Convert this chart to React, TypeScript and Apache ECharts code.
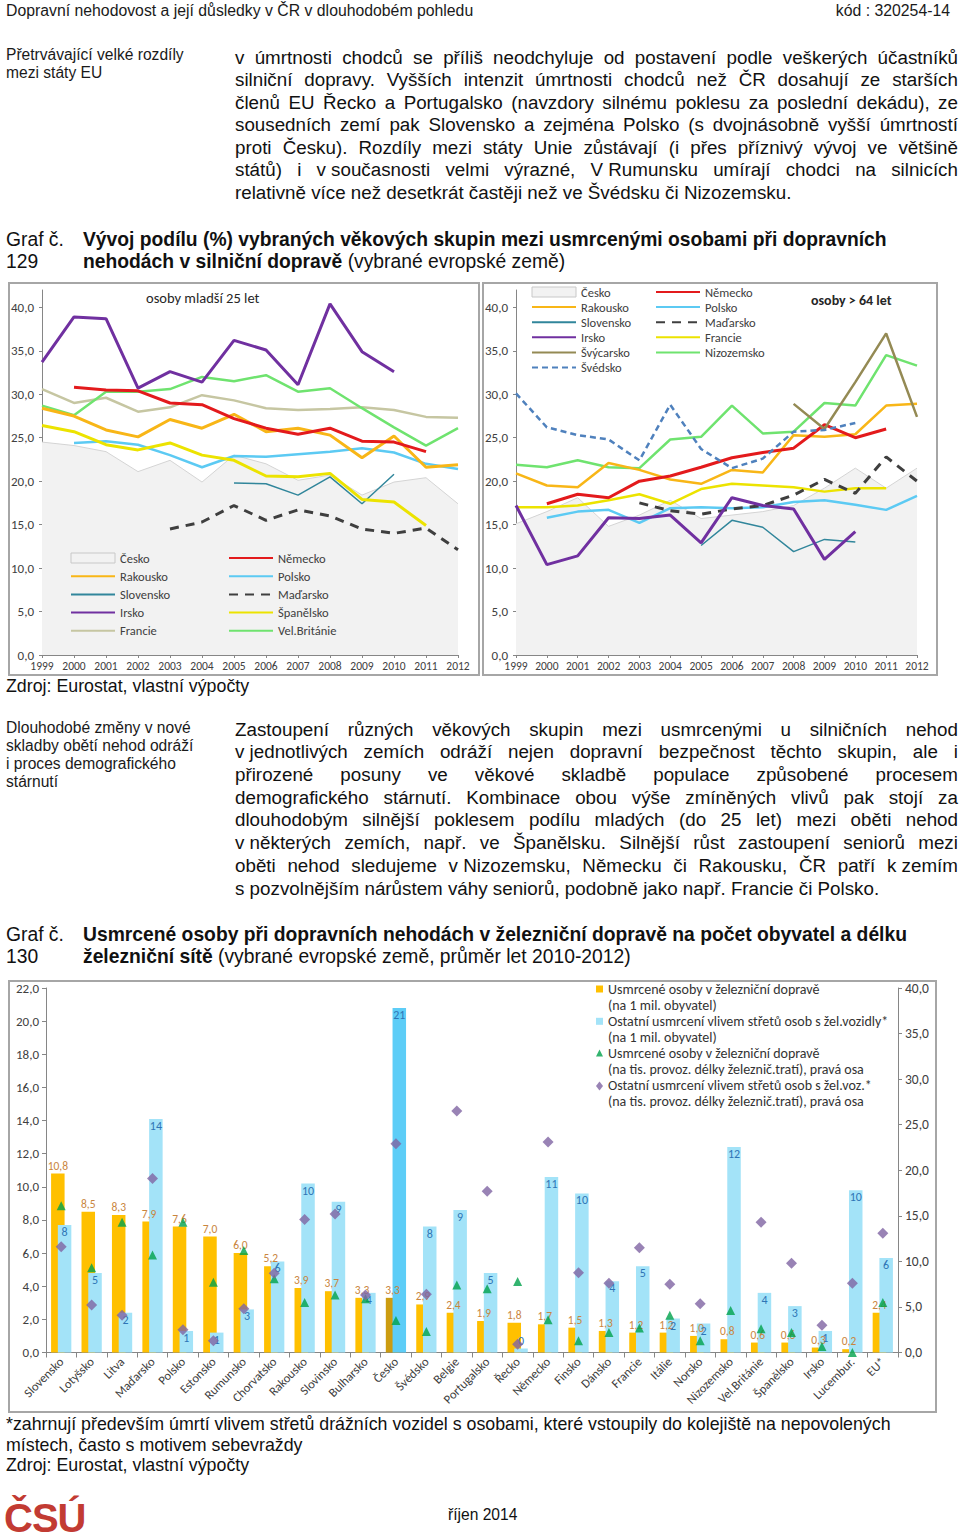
import React, { useEffect, useRef } from 'react';
import * as echarts from 'echarts';

// ---------- DATA ----------
const years = ['1999', '2000', '2001', '2002', '2003', '2004', '2005', '2006', '2007', '2008', '2009', '2010', '2011', '2012'];

// share of persons younger than 25 years among killed (%)
const youngCesko = [24.5, 24.1, 23.4, 21.1, 22.4, 19.9, 23.0, 22.0, 20.1, 20.7, 18.4, 19.9, 20.4, 17.4];
const youngNemecko = [null, 30.8, 30.5, 30.4, 29.0, 28.8, 27.2, 26.1, 25.4, 26.1, 24.6, 24.5, 23.4, null];
const youngRakousko = [28.4, 27.5, 25.9, 25.1, 27.1, 26.1, 27.7, 25.7, 26.1, 25.3, 22.7, 25.2, 21.6, 21.9];
const youngPolsko = [null, 24.4, 24.6, 24.2, 23.0, 21.6, 22.9, 22.8, 23.1, 23.4, 23.8, 23.3, 22.0, 21.4];
const youngSlovensko = [null, null, null, null, null, null, 19.8, 19.7, 18.4, 20.5, 17.4, 20.8, null, null];
const youngMadarsko = [null, null, null, null, 14.5, 15.3, 17.2, 15.5, 16.7, 16.0, 14.5, 14.0, 14.6, 12.1];
const youngIrsko = [33.7, 38.9, 38.7, 30.7, 32.6, 31.4, 36.2, 35.1, 31.1, 40.4, 34.9, 32.6, null, null];
const youngSpanelsko = [26.4, 25.7, 24.2, 23.6, 24.4, 23.0, 22.4, 20.6, 20.5, 20.9, 17.9, 17.6, 14.9, null];
const youngFrancie = [30.6, 29.0, 29.6, 28.0, 28.5, 29.9, 29.3, 28.4, 28.2, 28.3, 28.5, 28.2, 27.4, 27.3];
const youngVelBritanie = [28.7, 27.6, 30.3, 30.3, 30.6, 32.0, 31.5, 32.2, 30.3, 30.7, 28.4, 26.2, 24.1, 26.1];

// share of persons older than 64 years among killed (%)
const oldCesko = [15.1, 16.5, 18.1, 14.8, 16.1, 17.8, 15.7, 16.1, 16.5, 17.2, 19.2, 21.5, 19.2, 21.5];
const oldNemecko = [null, 17.4, 18.5, 18.1, 20.0, 20.6, 21.6, 22.7, 23.3, 23.8, 26.5, 25.0, 26.0, null];
const oldRakousko = [20.9, 19.5, 19.3, 22.1, 21.3, 20.2, 19.7, 21.3, 21.0, 25.3, 25.1, 25.4, 28.7, 28.9];
const oldPolsko = [null, 15.8, 16.5, 16.7, 15.2, 16.9, 17.0, 16.9, 17.0, 17.6, 17.8, 17.3, 16.7, 18.3];
const oldSlovensko = [null, null, null, null, null, null, 12.6, 15.5, 14.7, 11.9, 13.3, 13.0, null, null];
const oldMadarsko = [null, null, null, null, 17.5, 16.6, 16.2, 16.8, 17.2, 18.4, 20.2, 18.6, 22.8, 20.0];
const oldIrsko = [17.2, 10.4, 11.4, 15.8, 15.7, 16.1, 12.9, 18.1, 17.2, 16.8, 11.0, 14.2, null, null];
const oldFrancie = [17.0, 17.0, 17.2, 17.8, 18.5, 17.4, 19.1, 19.7, 19.5, 19.3, 18.8, 19.2, 19.2, null];
const oldNizozemsko = [21.9, 21.6, 22.4, 21.6, 21.5, 24.8, 25.1, 28.7, 25.5, 25.7, 29.0, 28.7, 34.5, 33.3];
const oldSvycarsko = [null, null, null, null, null, null, null, null, null, 28.9, 26.0, 31.4, 37.0, 27.4];
const oldSvedsko = [30.1, 26.2, 25.3, 24.8, 22.4, 28.8, 23.7, 21.5, 22.6, 25.7, 25.9, 26.7, null, null];

// rail chart
const countries = ['Slovensko', 'Lotyšsko', 'Litva', 'Maďarsko', 'Polsko', 'Estonsko', 'Rumunsko', 'Chorvatsko', 'Rakousko', 'Slovinsko', 'Bulharsko', 'Česko', 'Švédsko', 'Belgie', 'Portugalsko', 'Řecko', 'Německo', 'Finsko', 'Dánsko', 'Francie', 'Itálie', 'Norsko', 'Nizozemsko', 'Vel.Británie', 'Španělsko', 'Irsko', 'Lucembur.', 'EU*'];
const killedPerPop = [10.8, 8.5, 8.3, 7.9, 7.6, 7.0, 6.0, 5.2, 3.9, 3.7, 3.3, 3.3, 2.9, 2.4, 1.9, 1.8, 1.7, 1.5, 1.3, 1.2, 1.2, 1.0, 0.8, 0.6, 0.6, 0.3, 0.2, 2.4];
const otherPerPop = [7.7, 4.8, 2.4, 14.1, 1.3, 1.2, 2.6, 5.5, 10.2, 9.1, 3.6, 20.8, 7.6, 8.6, 4.8, 0.24, 10.6, 9.6, 4.3, 5.2, 2.05, 1.75, 12.4, 3.6, 2.8, 1.3, 9.8, 5.7];
const killedPerRail = [16.1, 9.3, 14.3, 10.7, 14.3, 7.7, 11.2, 8.1, 5.5, 6.3, 5.9, 3.5, 2.3, 7.4, 7.0, 7.8, 3.6, 1.3, 2.2, 2.7, 4.1, 1.3, 4.6, 2.6, 2.2, 0.66, 0.0, 5.5];
const otherPerRail = [11.6, 5.2, 4.1, 19.1, 2.5, 1.3, 4.8, 8.7, 14.6, 15.2, 6.3, 22.9, 6.4, 26.5, 17.7, 0.9, 23.1, 8.75, 7.6, 11.5, 7.5, 5.35, null, 14.3, 9.8, 3.0, 7.6, 13.1];
const highlightCountry = 'Česko';

const railLegend = [
  'Usmrcené osoby v železniční dopravě\n(na 1 mil. obyvatel)',
  'Ostatní usmrcení vlivem střetů osob s žel.vozidly*\n(na 1 mil. obyvatel)',
  'Usmrcené osoby v železniční dopravě\n(na tis. provoz. délky železnič.tratí), pravá osa',
  'Ostatní usmrcení vlivem střetů osob s žel.voz.*\n(na tis. provoz. délky železnič.tratí), pravá osa',
];

// texts
const para1 = [
  'v úmrtnosti chodců se příliš neodchyluje od postavení podle veškerých účastníků',
  'silniční dopravy. Vyšších intenzit úmrtnosti chodců než ČR dosahují ze starších',
  'členů EU Řecko a Portugalsko (navzdory silnému poklesu za poslední dekádu), ze',
  'sousedních zemí pak Slovensko a zejména Polsko (s dvojnásobně vyšší úmrtností',
  'proti Česku). Rozdíly mezi státy Unie zůstávají (i přes příznivý vývoj ve většině',
  'států) i v\u00a0současnosti velmi výrazné, V\u00a0Rumunsku umírají chodci na silnicích',
  'relativně více než desetkrát častěji než ve Švédsku či Nizozemsku.',
];
const para2 = [
  'Zastoupení různých věkových skupin mezi usmrcenými u silničních nehod',
  'v\u00a0jednotlivých zemích odráží nejen dopravní bezpečnost těchto skupin, ale i',
  'přirozené posuny ve věkové skladbě populace způsobené procesem',
  'demografického stárnutí. Kombinace obou výše zmíněných vlivů pak stojí za',
  'dlouhodobým silnější poklesem podílu mladých (do 25 let) mezi oběti nehod',
  'v\u00a0některých zemích, např. ve Španělsku. Silnější růst zastoupení seniorů mezi',
  'oběti nehod sledujeme v\u00a0Nizozemsku, Německu či Rakousku, ČR patří k\u00a0zemím',
  's\u00a0pozvolnějším nárůstem váhy seniorů, podobně jako např. Francie či Polsko.',
];

// ---------- STYLE ----------
const CH_FONT = 'Carlito, Lato, "Liberation Sans", sans-serif';
const TXT_FONT = '"Liberation Sans", Arial, Helvetica, sans-serif';
const AXIS_C = '#868686';
const fmt1 = (v: number) => Number(v).toFixed(1).replace('.', ',');

// legend icons: symbol drawn in the top part of a 7x32 box so it sits next to the first text line
const ICON_SQUARE = 'path://M0 0 M0 32 M0 4.5 L7 4.5 L7 11.5 L0 11.5 Z';
const ICON_TRIANGLE = 'path://M0 0 M0 32 M3.5 4 L7 11 L0 11 Z';
const ICON_DIAMOND = 'path://M0 0 M0 32 M3.5 3.5 L7 8 L3.5 12.5 L0 8 Z';

function frame(w: number, h: number) {
  return [{
    type: 'rect', silent: true, z: 100,
    shape: { x: 1, y: 1, width: w - 2, height: h - 2 },
    style: { fill: 'none', stroke: '#a6a6a6', lineWidth: 2 },
  }];
}

function ln(name: string, data: any[], color: string, width: number, dash?: number[]) {
  return {
    type: 'line', name, data, symbol: 'none', connectNulls: false,
    lineStyle: { color, width, type: dash ? dash : 'solid', cap: 'butt' },
    itemStyle: { color },
  };
}

function area(name: string, data: any[]) {
  return {
    type: 'line', name, data, symbol: 'none', z: 1,
    lineStyle: { color: '#d4d4d4', width: 1 },
    itemStyle: { color: '#d4d4d4' },
    areaStyle: { color: '#f2f2f2', opacity: 1 },
  };
}

function lineOption(cfg: any) {
  const legendBase = {
    orient: 'vertical', padding: 0, itemWidth: 44, itemHeight: 10,
    itemStyle: { opacity: 0 },
    textStyle: { fontFamily: CH_FONT, fontSize: 12.5, color: '#404040', lineHeight: 14 },
  };
  return {
    animation: false,
    textStyle: { fontFamily: CH_FONT },
    graphic: frame(cfg.w, cfg.h),
    title: {
      text: cfg.title, left: cfg.titleLeft, top: cfg.titleTop, padding: 0,
      textStyle: { fontFamily: CH_FONT, fontSize: cfg.titleSize, fontWeight: cfg.titleWeight, color: '#262626' },
    },
    grid: { left: cfg.gridLeft, top: 8, width: cfg.gridWidth, height: 365 },
    xAxis: {
      type: 'category', data: years, boundaryGap: false,
      axisLine: { lineStyle: { color: AXIS_C } },
      axisTick: { show: true, length: 3, lineStyle: { color: AXIS_C } },
      axisLabel: { interval: 0, fontSize: 11.5, color: '#404040', margin: 5, fontFamily: CH_FONT },
    },
    yAxis: {
      type: 'value', min: 0, max: 42, interval: 5,
      splitLine: { show: false },
      axisLine: { show: true, lineStyle: { color: AXIS_C } },
      axisTick: { show: true, length: 3, lineStyle: { color: AXIS_C } },
      axisLabel: { showMaxLabel: false, fontSize: 13, color: '#404040', margin: 8, formatter: fmt1, fontFamily: CH_FONT },
    },
    legend: cfg.legends.map((l: any) => ({ ...legendBase, ...l })),
    series: cfg.series,
  };
}

const ceskoLegendItem = {
  name: 'Česko', icon: 'rect',
  itemStyle: { color: '#f2f2f2', borderColor: '#c8c8c8', borderWidth: 1, opacity: 1 },
};

const youngOption = lineOption({
  w: 472, h: 394, gridLeft: 34, gridWidth: 416,
  title: 'osoby mladší 25 let', titleLeft: 138, titleTop: 8, titleWeight: 'normal', titleSize: 14.5,
  legends: [
    { left: 62, top: 269, itemGap: 4.2, data: [ceskoLegendItem, 'Rakousko', 'Slovensko', 'Irsko', 'Francie'] },
    { left: 220, top: 269, itemGap: 4.2, data: ['Německo', 'Polsko', 'Maďarsko', 'Španělsko', 'Vel.Británie'] },
  ],
  series: [
    area('Česko', youngCesko),
    ln('Francie', youngFrancie, '#c6c6a2', 2.5),
    ln('Vel.Británie', youngVelBritanie, '#6fe36f', 2.5),
    ln('Polsko', youngPolsko, '#5ccaf3', 2.5),
    ln('Slovensko', youngSlovensko, '#31869b', 1.5),
    ln('Španělsko', youngSpanelsko, '#ece300', 3),
    ln('Rakousko', youngRakousko, '#f8b617', 3),
    ln('Německo', youngNemecko, '#e31a1c', 3),
    ln('Maďarsko', youngMadarsko, '#3f3f3f', 3, [9, 7]),
    ln('Irsko', youngIrsko, '#7030a0', 3),
  ],
});

const oldOption = lineOption({
  w: 456, h: 394, gridLeft: 33, gridWidth: 402,
  title: 'osoby > 64 let', titleLeft: 329, titleTop: 11, titleWeight: 'bold', titleSize: 14,
  legends: [
    { left: 49, top: 3, itemGap: 1.1, data: [ceskoLegendItem, 'Rakousko', 'Slovensko', 'Irsko', 'Švýcarsko', 'Švédsko'] },
    { left: 173, top: 3, itemGap: 1.1, data: ['Německo', 'Polsko', 'Maďarsko', 'Francie', 'Nizozemsko'] },
  ],
  series: [
    area('Česko', oldCesko),
    ln('Nizozemsko', oldNizozemsko, '#6fe36f', 2.5),
    ln('Polsko', oldPolsko, '#5ccaf3', 2.5),
    ln('Slovensko', oldSlovensko, '#31869b', 1.5),
    ln('Francie', oldFrancie, '#ece300', 2.5),
    ln('Rakousko', oldRakousko, '#f8b617', 2.5),
    ln('Německo', oldNemecko, '#e31a1c', 3),
    ln('Švýcarsko', oldSvycarsko, '#948a54', 2.5),
    ln('Švédsko', oldSvedsko, '#4f81bd', 2.5, [6, 4]),
    ln('Maďarsko', oldMadarsko, '#3f3f3f', 3, [9, 7]),
    ln('Irsko', oldIrsko, '#7030a0', 3),
  ],
});

const railOption = {
  animation: false,
  textStyle: { fontFamily: CH_FONT },
  graphic: frame(929, 433),
  grid: { left: 38, right: 39, top: 8, height: 364.5 },
  legend: {
    orient: 'vertical', left: 588, top: 1, padding: 0,
    itemWidth: 7, itemHeight: 32, itemGap: 0.3,
    textStyle: { fontFamily: CH_FONT, fontSize: 14, color: '#333333', lineHeight: 16 },
    data: [
      { name: railLegend[0], icon: ICON_SQUARE },
      { name: railLegend[1], icon: ICON_SQUARE },
      { name: railLegend[2], icon: ICON_TRIANGLE },
      { name: railLegend[3], icon: ICON_DIAMOND },
    ],
  },
  xAxis: {
    type: 'category', data: countries,
    axisLine: { lineStyle: { color: AXIS_C } },
    axisTick: { show: true, length: 5, lineStyle: { color: AXIS_C } },
    axisLabel: { interval: 0, rotate: 45, fontSize: 12.5, color: '#404040', margin: 7, fontFamily: CH_FONT },
  },
  yAxis: [
    {
      type: 'value', min: 0, max: 22, interval: 2, position: 'left',
      splitLine: { show: false },
      axisLine: { show: true, lineStyle: { color: AXIS_C } },
      axisTick: { show: true, length: 4, lineStyle: { color: AXIS_C } },
      axisLabel: { fontSize: 13, color: '#404040', margin: 7, formatter: fmt1, fontFamily: CH_FONT },
    },
    {
      type: 'value', min: 0, max: 40, interval: 5, position: 'right',
      splitLine: { show: false },
      axisLine: { show: true, lineStyle: { color: AXIS_C } },
      axisTick: { show: true, length: 4, lineStyle: { color: AXIS_C } },
      axisLabel: { fontSize: 13.5, color: '#404040', margin: 7, formatter: fmt1, fontFamily: CH_FONT },
    },
  ],
  series: [
    {
      type: 'bar', name: railLegend[0], yAxisIndex: 0, barWidth: 13.5, barGap: '-50%',
      itemStyle: { color: '#ffc000' },
      data: killedPerPop.map((v, i) => countries[i] === highlightCountry ? { value: v, itemStyle: { color: '#cc9c10' } } : v),
      label: { show: true, position: 'top', distance: 2, color: '#c9853d', fontSize: 11.5, fontFamily: CH_FONT, formatter: (p: any) => fmt1(p.value) },
    },
    {
      type: 'bar', name: railLegend[1], yAxisIndex: 0, barWidth: 13.5, barGap: '-50%',
      itemStyle: { color: '#a3e3f8' },
      data: otherPerPop.map((v, i) => {
        const item: any = { value: v };
        if (countries[i] === highlightCountry) item.itemStyle = { color: '#5dcdf7' };
        if (v < 0.5) item.label = { position: 'top', distance: 2 };
        return item;
      }),
      label: { show: true, position: 'insideTop', distance: 1, color: '#2e75b6', fontSize: 12, fontFamily: CH_FONT, formatter: (p: any) => String(Math.round(p.value)) },
    },
    {
      type: 'scatter', name: railLegend[2], yAxisIndex: 1, symbol: 'triangle', symbolSize: 9,
      itemStyle: { color: '#00a14b' }, data: killedPerRail, z: 5,
    },
    {
      type: 'scatter', name: railLegend[3], yAxisIndex: 1, symbol: 'diamond', symbolSize: 11,
      itemStyle: { color: '#8064a2' }, data: otherPerRail, z: 5,
    },
  ],
};

// ---------- COMPONENTS ----------
function Chart(props: { left: number; top: number; width: number; height: number; option: any }) {
  const ref = useRef<HTMLDivElement>(null);
  useEffect(() => {
    const c = echarts.init(ref.current as HTMLDivElement, null, { renderer: 'svg', width: props.width, height: props.height });
    c.setOption(props.option);
    return () => c.dispose();
  }, []);
  return <div ref={ref} style={{ position: 'absolute', left: props.left, top: props.top, width: props.width, height: props.height }} />;
}

function JLine({ text, last }: { text: string; last?: boolean }) {
  if (last) return <div style={{ whiteSpace: 'nowrap' }}>{text}</div>;
  const words = text.split(' ');
  return (
    <div style={{ display: 'flex', justifyContent: 'space-between', whiteSpace: 'nowrap' }}>
      {words.map((w, i) => <span key={i}>{w}</span>)}
    </div>
  );
}

function Para({ lines, top, lh }: { lines: string[]; top: number; lh: number }) {
  return (
    <div style={{ position: 'absolute', left: 235, top, width: 723, fontSize: 18.8, lineHeight: lh + 'px', color: '#111' }}>
      {lines.map((l, i) => <JLine key={i} text={l} last={i === lines.length - 1} />)}
    </div>
  );
}

const abs = (left: number, top: number, extra: any = {}) => ({ position: 'absolute' as const, left, top, ...extra });

export default function App() {
  return (
    <div style={{ position: 'absolute', left: 0, top: 0, width: 960, height: 1540, background: '#fff', fontFamily: TXT_FONT, color: '#111', overflow: 'hidden' }}>
      <div style={abs(6, 2, { fontSize: 15.8, lineHeight: '18px', color: '#1a1a1a', whiteSpace: 'nowrap' })}>Dopravní nehodovost a její důsledky v ČR v dlouhodobém pohledu</div>
      <div style={{ position: 'absolute', right: 10, top: 2, fontSize: 15.8, lineHeight: '18px', color: '#1a1a1a', whiteSpace: 'nowrap' }}>kód : 320254-14</div>

      <div style={abs(6, 46, { fontSize: 15.6, lineHeight: '18px', color: '#1a1a1a', whiteSpace: 'nowrap' })}>Přetrvávající velké rozdíly<br />mezi státy EU</div>
      <Para lines={para1} top={46.7} lh={22.55} />

      <div style={abs(6, 229, { fontSize: 19.3, lineHeight: '22px', whiteSpace: 'nowrap' })}>Graf č.<br />129</div>
      <div style={abs(83, 229, { fontSize: 19.3, lineHeight: '22px', whiteSpace: 'nowrap' })}>
        <b>Vývoj podílu (%) vybraných věkových skupin mezi usmrcenými osobami při dopravních</b><br />
        <b>nehodách v silniční dopravě</b> (vybrané evropské země)
      </div>

      <Chart left={8} top={282} width={472} height={394} option={youngOption} />
      <Chart left={482} top={282} width={456} height={394} option={oldOption} />

      <div style={abs(6, 676, { fontSize: 17.8, lineHeight: '20px', whiteSpace: 'nowrap' })}>Zdroj: Eurostat, vlastní výpočty</div>

      <div style={abs(6, 719, { fontSize: 15.6, lineHeight: '18px', color: '#1a1a1a', whiteSpace: 'nowrap' })}>Dlouhodobé změny v nové<br />skladby obětí nehod odráží<br />i proces demografického<br />stárnutí</div>
      <Para lines={para2} top={718.6} lh={22.7} />

      <div style={abs(6, 924, { fontSize: 19.3, lineHeight: '22px', whiteSpace: 'nowrap' })}>Graf č.<br />130</div>
      <div style={abs(83, 924, { fontSize: 19.3, lineHeight: '22px', whiteSpace: 'nowrap' })}>
        <b>Usmrcené osoby při dopravních nehodách v železniční dopravě na počet obyvatel a délku</b><br />
        <b>železniční sítě</b> (vybrané evropské země, průměr let 2010-2012)
      </div>

      <Chart left={8} top={980} width={929} height={433} option={railOption} />

      <div style={abs(6, 1414, { fontSize: 17.8, lineHeight: '20.5px', whiteSpace: 'nowrap' })}>
        *zahrnují především úmrtí vlivem střetů drážních vozidel s osobami, které vstoupily do kolejiště na nepovolených<br />
        místech, často s motivem sebevraždy<br />
        Zdroj: Eurostat, vlastní výpočty
      </div>

      <div style={abs(4, 1498, { fontSize: 40, lineHeight: '40px', fontWeight: 'bold', color: '#c23b33', letterSpacing: '-1px', fontFamily: '"Liberation Sans Narrow", "Liberation Sans", Arial, sans-serif' })}>ČSÚ</div>
      <div style={abs(448, 1506, { fontSize: 15.6, lineHeight: '18px', whiteSpace: 'nowrap' })}>říjen 2014</div>
    </div>
  );
}
